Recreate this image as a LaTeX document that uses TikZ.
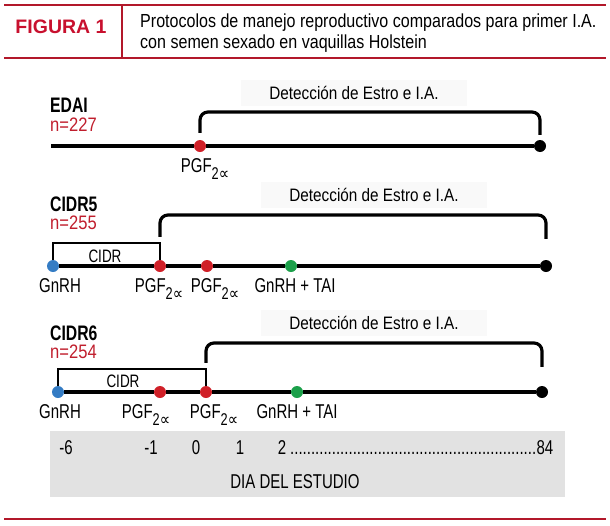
\documentclass[tikz,border=0pt]{standalone}
\usepackage{fontspec}
\setmainfont{Liberation Sans}
\newfontfamily\narrowfont{Liberation Sans}[FakeStretch=0.75]
\newfontfamily\midfont{Liberation Sans}[FakeStretch=0.85]
\newfontfamily\symbfont{DejaVu Sans}[FakeStretch=0.85]
\usetikzlibrary{positioning}

\definecolor{headred}{RGB}{200,16,46}
\definecolor{rulered}{RGB}{178,24,42}
\definecolor{sizered}{RGB}{192,30,45}
\definecolor{pgfred}{RGB}{208,32,40}
\definecolor{gnrhblue}{RGB}{52,124,196}
\definecolor{taigreen}{RGB}{28,160,74}
\definecolor{daygray}{RGB}{226,226,226}
\definecolor{faintgray}{RGB}{249,249,249}

\newcommand{\prosta}{PGF\raisebox{-7pt}{\fontsize{17}{17}\selectfont 2{\symbfont ∝}}}

\begin{document}
\begin{tikzpicture}[x=1pt,y=-1pt,
    event node/.style={circle,inner sep=0pt,minimum size=12pt},
    tag node/.style={inner sep=0pt,text height=14.5pt,text depth=5pt,font=\narrowfont\fontsize{20}{22}\selectfont},
    detect node/.style={fill=faintgray,inner sep=0pt,minimum width=226pt,minimum height=26pt,font=\midfont\fontsize{18}{20}\selectfont},
    group node/.style={anchor=west,inner sep=0pt,font=\narrowfont\bfseries\fontsize{21}{24}\selectfont},
    size node/.style={anchor=west,inner sep=0pt,text=sizered,font=\midfont\fontsize{19.5}{22}\selectfont},
    time line/.style={line width=3.2pt},
    bracket/.style={line width=3.2pt,rounded corners=8pt},
    cidr line/.style={line width=2.8pt}]
    \useasboundingbox (0,0) rectangle (610,525);

    % header
    \draw[rulered,line width=2pt] (4,5) -- (606,5) (4,58) -- (606,58);
    \draw[rulered,line width=1.2pt] (122,5) -- (122,58);
    \node[text=headred,inner sep=0pt,font=\bfseries\fontsize{19.5}{22}\selectfont] (fig) at (61,27) {FIGURA 1};
    \node[anchor=base west,inner sep=0pt,font=\midfont\fontsize{18.9}{21}\selectfont] (title1) at (140,27.5) {Protocolos de manejo reproductivo comparados para primer I.A.};
    \node[anchor=base west,inner sep=0pt,font=\midfont\fontsize{18.9}{21}\selectfont] (title2) at (140,48.5) {con semen sexado en vaquillas Holstein};

    % EDAI
    \node[group node] (edai) at (50,105) {EDAI};
    \node[size node] (edain) at (50,125) {n=227};
    \node[detect node] (edet) at (354,93) {Detección de Estro e I.A.};
    \coordinate (e0) at (51,146);
    \node[event node,fill=pgfred] (e1) at (200,146) {};
    \node[event node,fill=black] (e2) at (540,146) {};
    \draw[time line] (e0) -- (e1) -- (e2);
    \draw[bracket] ([yshift=7pt]e1.north) |- (e2 |- 0,112) -- ([yshift=5pt]e2.north);
    \node[tag node,below=5.5pt of e1,xshift=5pt] (e1lab) {\prosta};

    % CIDR5
    \node[group node] (cidr5) at (50,204) {CIDR5};
    \node[size node] (cidr5n) at (50,223) {n=255};
    \node[detect node] (c5det) at (374,195) {Detección de Estro e I.A.};
    \node[event node,fill=gnrhblue] (c5b) at (53,266) {};
    \node[event node,fill=pgfred] (c5r1) at (160,266) {};
    \node[event node,fill=pgfred] (c5r2) at (207,266) {};
    \node[event node,fill=taigreen] (c5g) at (291,266) {};
    \node[event node,fill=black] (c5k) at (546,266) {};
    \draw[time line] (c5b) -- (c5r1) -- (c5r2) -- (c5g) -- (c5k);
    \draw[cidr line] (c5b.north) |- (c5r1 |- 0,243) -- (c5r1.north);
    \node[font=\narrowfont\fontsize{18}{20}\selectfont] (c5cidr) at (105,256) {CIDR};
    \draw[bracket] ([yshift=23pt]c5r1.north) |- (c5k |- 0,215) -- ([yshift=21pt]c5k.north);
    \node[tag node,below=5.5pt of c5b,xshift=7pt] (c5blab) {GnRH};
    \node[tag node,below=5.5pt of c5r1,xshift=-1pt] (c5r1lab) {\prosta};
    \node[tag node,below=5.5pt of c5r2,xshift=8pt] (c5r2lab) {\prosta};
    \node[tag node,below=5.5pt of c5g,xshift=4pt] (c5glab) {GnRH + TAI};

    % CIDR6
    \node[group node] (cidr6) at (50,333) {CIDR6};
    \node[size node] (cidr6n) at (50,352) {n=254};
    \node[detect node] (c6det) at (374,323) {Detección de Estro e I.A.};
    \node[event node,fill=gnrhblue] (c6b) at (58,392) {};
    \node[event node,fill=pgfred] (c6r1) at (160,392) {};
    \node[event node,fill=pgfred] (c6r2) at (206,392) {};
    \node[event node,fill=taigreen] (c6g) at (297,392) {};
    \node[event node,fill=black] (c6k) at (542,392) {};
    \draw[time line] (c6b) -- (c6r1) -- (c6r2) -- (c6g) -- (c6k);
    \draw[cidr line] (c6b.north) |- (c6r2 |- 0,369) -- (c6r2.north);
    \node[font=\narrowfont\fontsize{18}{20}\selectfont] (c6cidr) at (123,381) {CIDR};
    \draw[bracket] ([yshift=23pt]c6r2.north) |- (c6k |- 0,343) -- ([yshift=19pt]c6k.north);
    \node[tag node,below=5.5pt of c6b,xshift=2pt] (c6blab) {GnRH};
    \node[tag node,below=5.5pt of c6r1,xshift=-14pt] (c6r1lab) {\prosta};
    \node[tag node,below=5.5pt of c6r2,xshift=8pt] (c6r2lab) {\prosta};
    \node[tag node,below=5.5pt of c6g,xshift=0pt] (c6glab) {GnRH + TAI};

    % days
    \fill[daygray] (50,431) rectangle (565,497);
    \node[tag node] (dm6) at (66,449.5) {-6};
    \node[tag node] (dm1) at (151,449.5) {-1};
    \node[tag node] (d0) at (196,449.5) {0};
    \node[tag node] (d1) at (240,449.5) {1};
    \node[tag node] (d2) at (282,449.5) {2};
    \node[tag node,anchor=west] (ddots) at (290,449.5) {\makebox[246pt]{\leaders\hbox{.}\hfill}};
    \node[tag node,anchor=west] (d84) at (ddots.east) {84};
    \node[tag node] (dlab) at (295,484) {DIA DEL ESTUDIO};

    \draw[rulered,line width=2pt] (4,519) -- (606,519);
\end{tikzpicture}
\end{document}
